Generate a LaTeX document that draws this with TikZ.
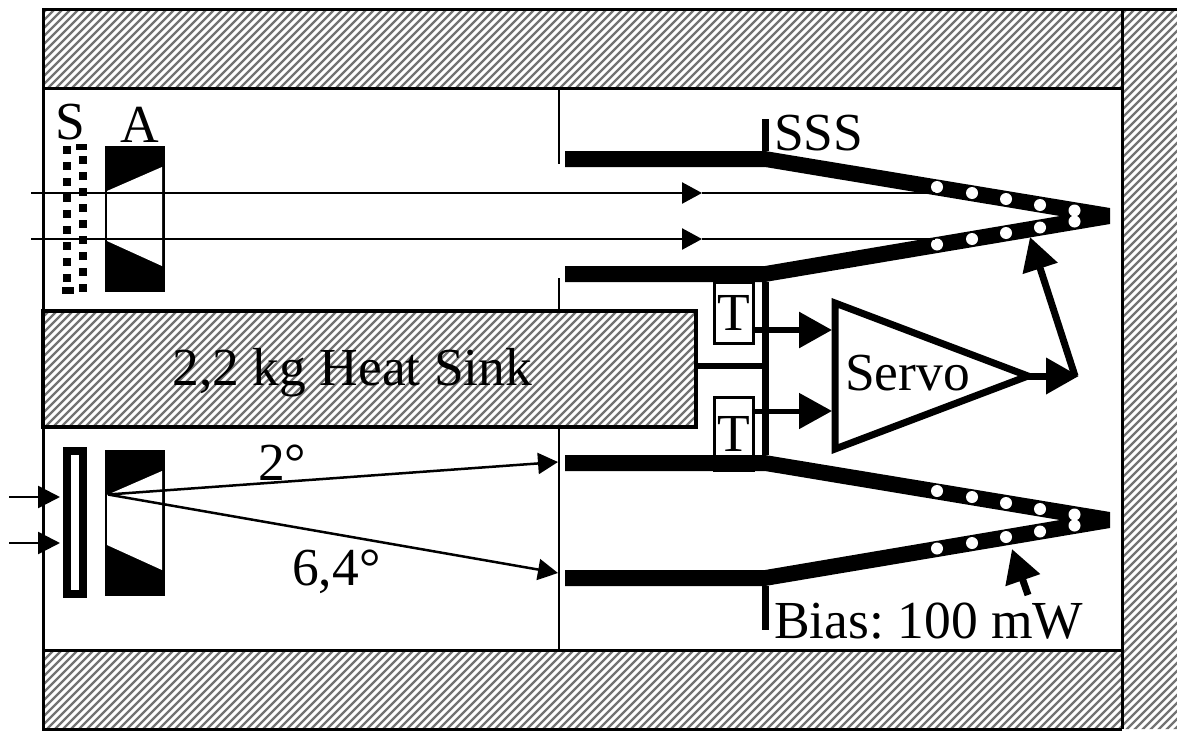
\documentclass[tikz,border=0pt]{standalone}
\usepackage{fontspec}
\setmainfont{Liberation Serif}
\usetikzlibrary{arrows.meta}

\tikzset{
  lbl/.style={inner sep=0pt, anchor=base, font=\fontsize{53.5}{54}\selectfont\frenchspacing},
  hatchline/.style={line width=2.2pt, black!55},
  frameline/.style={line width=3pt, black},
  wall/.style={line width=2.5pt, black},
  stem/.style={line width=7pt, black},
  beam/.style={line width=2.5pt, black},
  beamtip/.style={-{Triangle[length=20pt,width=21pt]}},
  powertip/.style={line width=7pt, -{Triangle[length=33pt,width=35pt]}},
  tbox/.style={draw, line width=3pt, inner sep=0pt, minimum width=39pt, font=\fontsize{53.5}{54}\selectfont},
  dotline/.style={line width=8pt, dash pattern=on 8pt off 8pt}
}

\begin{document}
\begin{tikzpicture}[x=1pt, y=-1pt]
    \useasboundingbox (0,0) rectangle (1177,731);

    % Hatching of the walls and the heat sink
    \begin{scope}
      \clip (43,9) rectangle (1177,88) (43,650) rectangle (1177,729)
            (1122,88) rectangle (1177,650) (43,311) rectangle (696,427);
      \foreach \i in {0,8,...,1912} {
        \draw[hatchline] (\i,0) -- (0,\i);
      }
    \end{scope}

    % Frame
    \draw[frameline] (1177,9) -- (43,9) -- (43,729) -- (1122,729);
    \draw[frameline] (43,88) -- (1122,88);
    \draw[frameline] (43,650) -- (1122,650);
    \draw[frameline] (1122,9) -- (1122,729);
    \draw[line width=4.5pt] (43,311) rectangle (696,427);
    \node[lbl] (sink) at (352.5,385) {2,2 kg Heat Sink};

    % Baffle
    \draw[wall] (559,88) -- (559,164);
    \draw[wall] (559,278) -- (559,311);
    \draw[wall] (559,427) -- (559,650);

    % Thermometers sit behind the cones
    \node[tbox, minimum height=61pt] (T1) at (734,312.5) {T};
    \node[tbox, minimum height=73pt] (T2) at (734,433.5) {T};

    % Cones: same shape twice, second one shifted down
    \foreach \dy in {0,304} {
      \begin{scope}[shift={(0,\dy)}]
        \fill[black] (565,151) -- (765,151) -- (1110,208) -- (1110,224) -- (765,282)
          -- (565,282) -- (565,266) -- (765,266) -- (1060,216) -- (765,167) -- (565,167) -- cycle;

        % Holes along both arms
        \foreach \xpos/\ypos in {937/187,972/193,1006/199,1040/205,1074.5/210.5,
                                 1074.5/221.5,1040/227.5,1006/233,972/239,937/244.5} {
          \fill[white] (\xpos,\ypos) circle (6);
        }

        % Aperture
        \fill[black] (105,146) rectangle (165,292);
        \fill[white] (107,191) -- (162,167) -- (162,266) -- (107,241) -- cycle;
      \end{scope}
    }

    % Stems
    \draw[stem] (765.5,119) -- (765.5,151);
    \draw[stem] (765.5,282) -- (765.5,455);
    \draw[stem] (765.5,586) -- (765.5,630);
    \draw[line width=6.5pt] (696,366) -- (765.5,366);

    % Shutters
    \draw[dotline] (66.5,146) -- (66.5,294);
    \draw[dotline, dash phase=4pt] (83,144) -- (83,294);
    \draw[line width=7pt] (62,290.5) -- (74,290.5);
    \draw[line width=6pt] (76,147) -- (87,147);
    \draw[line width=8pt] (66.5,451) rectangle (83,594);

    % Beams through the upper aperture
    \foreach \ypos [count=\n] in {193,239} {
      \coordinate (in\n) at (31,\ypos);
      \coordinate (mid\n) at (702,\ypos);
      \coordinate (out\n) at (935,\ypos);
      \draw[beam, beamtip] (in\n) -- (mid\n);
      \draw[beam] (mid\n) -- (out\n);
    }

    % Beams into the lower shutter
    \foreach \ypos [count=\n] in {497,543} {
      \coordinate (src\n) at (9,\ypos);
      \coordinate (dst\n) at (60,\ypos);
      \draw[beam, -{Triangle[length=22pt,width=22pt]}] (src\n) -- (dst\n);
    }

    % Rays from the lower aperture
    \coordinate (focus) at (108,494.5);
    \coordinate (rayA) at (558,462);
    \coordinate (rayB) at (558,573);
    \draw[beam, beamtip] (focus) -- (rayA);
    \draw[beam, beamtip] (focus) -- (rayB);

    % Servo
    \draw[line width=7pt, miter limit=20] (835,303) -- (1028,376) -- (835,449) -- cycle;
    \node[lbl] (servo) at (907.5,390) {Servo};

    \coordinate (servoA) at (832,330);
    \coordinate (servoB) at (832,411);
    \coordinate (servoOut) at (1028,376);
    \coordinate (knee) at (1079,376);
    \coordinate (heater) at (1030,237);
    \coordinate (biasFrom) at (1028,595);
    \coordinate (biasTo) at (1012,549);

    \draw[powertip, line width=6pt] (T1.east |- servoA) -- (servoA);
    \draw[powertip, line width=5pt] (T2.east |- servoB) -- (servoB);
    \draw[powertip] (servoOut) -- (knee);
    \draw[powertip] (1075,376) -- (heater);
    \draw[powertip] (biasFrom) -- (biasTo);

    % Labels
    \node[lbl] (labS) at (70,139) {S};
    \node[lbl] (labA) at (140,142) {A};
    \node[lbl, anchor=base west] (labSSS) at (774,150) {SSS};
    \node[lbl, anchor=base west] (lab2) at (258,480) {2°};
    \node[lbl, anchor=base west] (lab64) at (292,585) {6,4°};
    \node[lbl, anchor=base west] (labBias) at (774,638) {Bias: 100 mW};
  \end{tikzpicture}
\end{document}
